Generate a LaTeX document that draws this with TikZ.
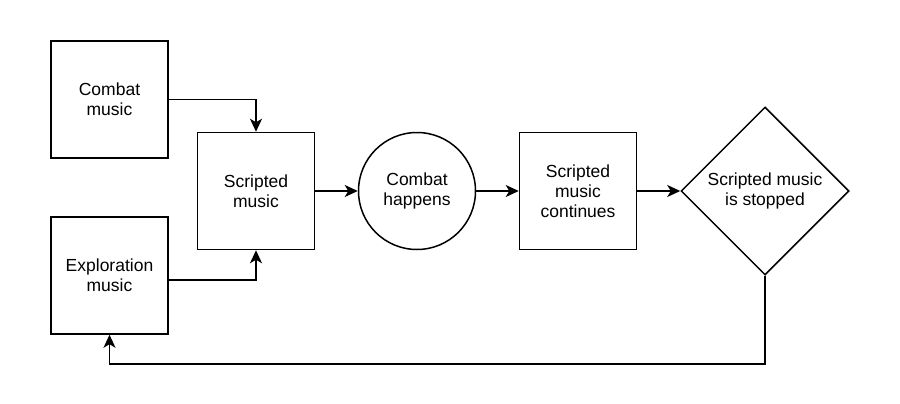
\documentclass[tikz,border=0pt]{standalone}
\usepackage{fontspec}
\setmainfont{Liberation Sans}
\usetikzlibrary{arrows.meta,shapes.geometric}

\begin{document}
\begin{tikzpicture}[x=1pt,y=-1pt,
  every node/.style={font=\fontsize{17.5}{20}\selectfont, align=center, inner sep=0pt},
  box/.style={draw, line width=1.5pt, fill=white, minimum width=117pt, minimum height=117pt},
  event/.style={draw, circle, line width=1.5pt, fill=white, minimum size=117pt},
  check/.style={draw, diamond, aspect=1, line width=1.5pt, fill=white, minimum width=168pt, minimum height=168pt},
  flow/.style={-{Stealth[length=13pt,width=12pt,inset=3.5pt]}, line width=1.5pt}]

% Page
\fill[white] (0,0) rectangle (900,404);
\useasboundingbox (0,0) rectangle (900,404);

% Music sources
\node[box] (combat) at (109.5,99.5) {Combat\\music};
\node[box] (explo) at (109.5,275.5) {Exploration\\music};

% Main line
\node[box] (scripted) at (256,191) {Scripted\\music};
\node[event] (happens) at (417,191) {Combat\\happens};
\node[box] (continues) at (578,191) {Scripted\\music\\continues};
\node[check] (stopped) at (765,191) {Scripted music\\is stopped};

% Connectors
\draw[flow] (combat.east) -| (scripted.north);
\draw[flow] ([yshift=-4.5pt]explo.east) -| (scripted.south);
\draw[flow] (scripted) -- (happens);
\draw[flow] (happens) -- (continues);
\draw[flow] (continues) -- (stopped);
\draw[flow] (stopped.south) -- ++(0,88) -| (explo.south);

\end{tikzpicture}
\end{document}
